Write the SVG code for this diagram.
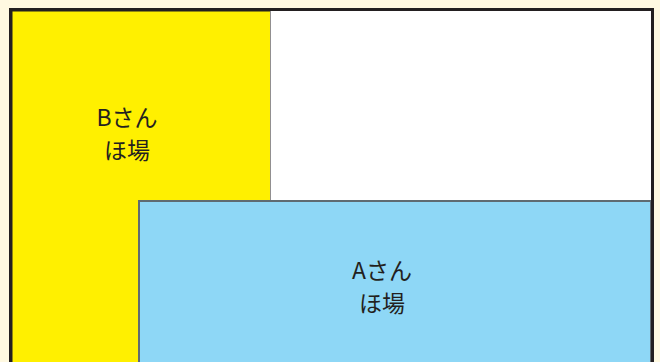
<svg xmlns="http://www.w3.org/2000/svg" width="660" height="362" viewBox="0 0 660 362">
<style>
.lbl{font-family:"Noto Sans CJK JP","Noto Sans",sans-serif;font-size:23px;fill:#231f20;text-anchor:middle}
</style>
<rect x="0" y="0" width="660" height="362" fill="#fff9e1"/>
<g id="plot-b">
<rect x="12" y="11" width="258.5" height="360" fill="#fff000" stroke="#231f20" stroke-width="1"/>
<text class="lbl" x="127" y="126">Bさん</text>
<text class="lbl" x="127" y="159">ほ場</text>
</g>
<g id="plot-empty">
<rect x="270.5" y="11" width="381" height="189.5" fill="#ffffff"/>
</g>
<g id="plot-a">
<rect x="139" y="201" width="512" height="170" fill="#8ed7f6" stroke="#5f6b72" stroke-width="2"/>
<text class="lbl" x="382" y="279">Aさん</text>
<text class="lbl" x="382" y="312">ほ場</text>
</g>
<g id="connectors"/>
<rect x="10.5" y="9.5" width="642" height="370" fill="none" stroke="#231f20" stroke-width="3"/>
</svg>
